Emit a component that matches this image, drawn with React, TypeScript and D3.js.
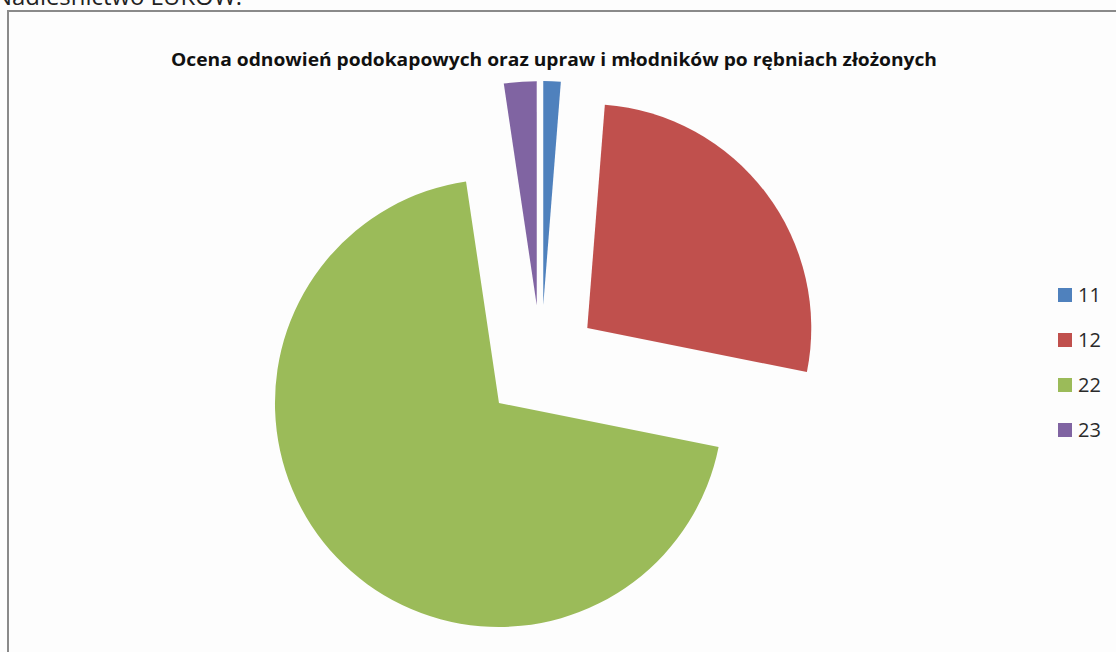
import React from "react";
import * as d3 from "d3";

const categories = ["11", "12", "22", "23"];
const values = [1.25, 26.9, 69.5, 2.35];
const colors = ["#4F81BD", "#C0504D", "#9BBB59", "#8064A2"];
const title = "Ocena odnowień podokapowych oraz upraw i młodników po rębniach złożonych";
const header = "Nadleśnictwo ŁUKÓW:";

export default function App() {
  const W = 1116;
  const H = 652;
  const cx = 541;
  const cy = 363;
  const r = 224;
  const explode = 58;

  const pie = d3.pie<number>().sort(null).value((d) => d);
  const arcs = pie(values);
  const arc = d3.arc<d3.PieArcDatum<number>>().innerRadius(0).outerRadius(r);

  const legendY = d3.scalePoint<string>().domain(categories).range([295, 430]);

  return (
    <svg
      width={W}
      height={H}
      style={{ position: "fixed", left: 0, top: 0, background: "#fdfdfd" }}
    >
      <rect x={0} y={0} width={W} height={H} fill="#fdfdfd" />
      <text
        x={-6}
        y={5}
        fontFamily="'Open Sans', sans-serif"
        fontSize={23}
        textLength={248}
        lengthAdjust="spacingAndGlyphs"
        fill="#222"
      >
        {header}
      </text>
      <path d={`M8,${H} L8,11 L${W},11`} fill="none" stroke="#8a8a8a" strokeWidth={2} />
      <text
        x={554}
        y={66}
        textAnchor="middle"
        fontFamily="'Open Sans', sans-serif"
        fontWeight="bold"
        fontSize={17.5}
        textLength={766}
        lengthAdjust="spacingAndGlyphs"
        fill="#111"
      >
        {title}
      </text>
      <g transform={`translate(${cx},${cy})`}>
        {arcs.map((a, i) => {
          const mid = (a.startAngle + a.endAngle) / 2;
          const dx = Math.sin(mid) * explode;
          const dy = -Math.cos(mid) * explode;
          return (
            <path
              key={categories[i]}
              d={arc(a) || ""}
              transform={`translate(${dx},${dy})`}
              fill={colors[i]}
            />
          );
        })}
      </g>
      {categories.map((c, i) => (
        <g key={c}>
          <rect x={1058} y={(legendY(c) || 0) - 7} width={14} height={14} fill={colors[i]} />
          <text
            x={1078}
            y={(legendY(c) || 0) + 7}
            fontFamily="'Open Sans', sans-serif"
            fontSize={20}
            fill="#2a2a2a"
          >
            {c}
          </text>
        </g>
      ))}
    </svg>
  );
}
